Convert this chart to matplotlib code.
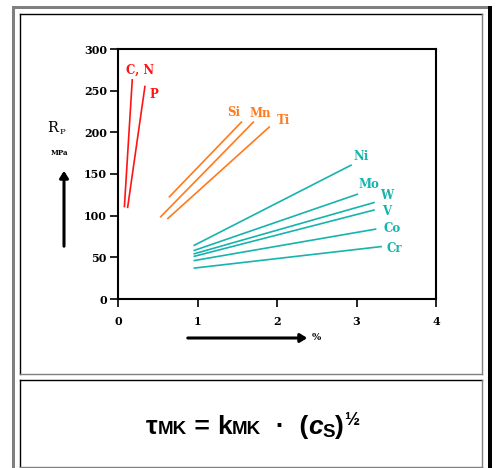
import matplotlib
matplotlib.use("Agg")
import matplotlib.pyplot as plt
from matplotlib.patches import Rectangle, FancyArrowPatch
from matplotlib.lines import Line2D

# figure size in pixels
W, H = 496, 468

# start/end points (x in %, y in MPa)
red_names = ["C, N", "P"]
red_x = [[0.08, 0.18], [0.12, 0.34]]
red_y = [[110, 264], [109, 256]]

orange_names = ["Si", "Mn", "Ti"]
orange_x = [[0.64, 1.56], [0.53, 1.71], [0.62, 1.91]]
orange_y = [[122, 213], [98, 213], [96, 207]]

cyan_names = ["Ni", "Mo", "W", "V", "Co", "Cr"]
cyan_x = [[0.95, 2.94], [0.95, 3.02], [0.95, 3.23], [0.95, 3.23], [0.95, 3.25], [0.95, 3.32]]
cyan_y = [[64, 161], [58, 126], [54, 116], [51, 107], [46, 84], [37, 63]]

x_ticks = [0, 1, 2, 3, 4]
y_ticks = [0, 50, 100, 150, 200, 250, 300]

# formula pieces: text, size, italic, vertical shift in px
formula = [("τ", 19, False, 0), ("MK", 13.5, False, 0), (" = ", 19, False, 0),
           ("k", 19, False, 0), ("MK", 13.5, False, 0), ("  ·  (", 19, False, 0),
           ("c", 19, True, 0), ("S", 13.5, False, -3), (")", 19, False, 0),
           ("½", 13, False, 9)]

RED = "#ff1414"
ORANGE = "#ff7a1c"
CYAN = "#17b3ad"


def fx(px):
    return px / W


def fy(py):
    return 1 - py / H


fig = plt.figure(figsize=(W / 100, H / 100), dpi=100)

# page frame (table borders)
fig.add_artist(Rectangle((fx(12), 0), fx(3), fy(6),
                         transform=fig.transFigure, color="#808080", lw=0))
fig.add_artist(Rectangle((fx(12), fy(9)), fx(476), fy(6) - fy(9),
                         transform=fig.transFigure, color="#808080", lw=0))
fig.add_artist(Rectangle((fx(488), 0), fx(4), fy(6),
                         transform=fig.transFigure, color="black", lw=0))


def cell(top, bottom):
    fig.add_artist(Line2D([fx(20), fx(482)], [fy(top), fy(top)], transform=fig.transFigure, color="black", lw=1))
    fig.add_artist(Line2D([fx(20), fx(20)], [fy(top), fy(bottom)], transform=fig.transFigure, color="black", lw=1))
    fig.add_artist(Line2D([fx(482), fx(482)], [fy(top), fy(bottom)], transform=fig.transFigure, color="#808080", lw=1))
    fig.add_artist(Line2D([fx(20), fx(482)], [fy(bottom), fy(bottom)], transform=fig.transFigure, color="#808080", lw=1))


cell(14, 374)
cell(380, 467)

# chart
ax = fig.add_axes([fx(118), fy(299), fx(436) - fx(118), fy(49) - fy(299)])
ax.set_xlim(0, 4)
ax.set_ylim(0, 300)

for xs, ys in zip(red_x, red_y):
    ax.plot(xs, ys, color=RED, lw=1.2, solid_capstyle="butt")
for xs, ys in zip(orange_x, orange_y):
    ax.plot(xs, ys, color=ORANGE, lw=1.2, solid_capstyle="butt")
for xs, ys in zip(cyan_x, cyan_y):
    ax.plot(xs, ys, color=CYAN, lw=1.2, solid_capstyle="butt")

lab = dict(family="DejaVu Serif", fontsize=8.5, fontweight="bold")
# label positions next to line ends
ax.text(0.10, 275, red_names[0], color=RED, ha="left", va="center", **lab)
ax.text(0.39, 245, red_names[1], color=RED, ha="left", va="center", **lab)
ax.text(1.38, 224, orange_names[0], color=ORANGE, ha="left", va="center", **lab)
ax.text(1.65, 223, orange_names[1], color=ORANGE, ha="left", va="center", **lab)
ax.text(2.00, 214, orange_names[2], color=ORANGE, ha="left", va="center", **lab)
ax.text(2.96, 171, cyan_names[0], color=CYAN, ha="left", va="center", **lab)
ax.text(3.02, 137, cyan_names[1], color=CYAN, ha="left", va="center", **lab)
ax.text(3.30, 124, cyan_names[2], color=CYAN, ha="left", va="center", **lab)
ax.text(3.32, 105, cyan_names[3], color=CYAN, ha="left", va="center", **lab)
ax.text(3.34, 84, cyan_names[4], color=CYAN, ha="left", va="center", **lab)
ax.text(3.38, 61, cyan_names[5], color=CYAN, ha="left", va="center", **lab)

ax.set_xticks(x_ticks)
ax.set_yticks(y_ticks)
ax.set_xticklabels([str(v) for v in x_ticks], family="DejaVu Serif", fontsize=8, fontweight="bold")
ax.set_yticklabels([str(v) for v in y_ticks], family="DejaVu Serif", fontsize=8, fontweight="bold")
ax.tick_params(direction="out", length=6, width=1.2, colors="black")
ax.tick_params(axis="x", pad=6)
ax.tick_params(axis="y", pad=2)
for s in ax.spines.values():
    s.set_linewidth(1.5)
    s.set_color("black")

# axis captions with arrows
fig.text(fx(47), fy(128), "R", family="DejaVu Serif", fontsize=10.5, ha="left", va="center")
fig.text(fx(60), fy(132), "P", family="DejaVu Serif", fontsize=6, ha="left", va="center")
fig.text(fx(51), fy(153), "MPa", family="DejaVu Serif", fontsize=5, fontweight="bold", ha="left", va="center")
fig.add_artist(FancyArrowPatch((fx(64), fy(249)), (fx(64), fy(168)), transform=fig.transFigure,
                               arrowstyle="-|>,head_length=4,head_width=2.5", lw=2.2, color="black"))
fig.add_artist(FancyArrowPatch((fx(185), fy(338)), (fx(310), fy(338)), transform=fig.transFigure,
                               arrowstyle="-|>,head_length=4,head_width=2.5", lw=2.2, color="black"))
fig.text(fx(312), fy(338), "%", family="DejaVu Serif", fontsize=7, fontweight="bold", ha="left", va="center")

# formula, laid out piece by piece on one baseline
renderer = fig.canvas.get_renderer()
pieces = []
total = 0
for txt, size, ital, dy in formula:
    t = fig.text(0, 0, txt, family="Liberation Sans", fontsize=size, fontweight="bold",
                 style="italic" if ital else "normal", ha="left", va="baseline")
    w = t.get_window_extent(renderer).width
    pieces.append((t, w, dy))
    total += w
x = 252.5 - total / 2
for t, w, dy in pieces:
    t.set_position((fx(x), fy(434 - dy)))
    x += w

fig.savefig("out.png", dpi=100)
